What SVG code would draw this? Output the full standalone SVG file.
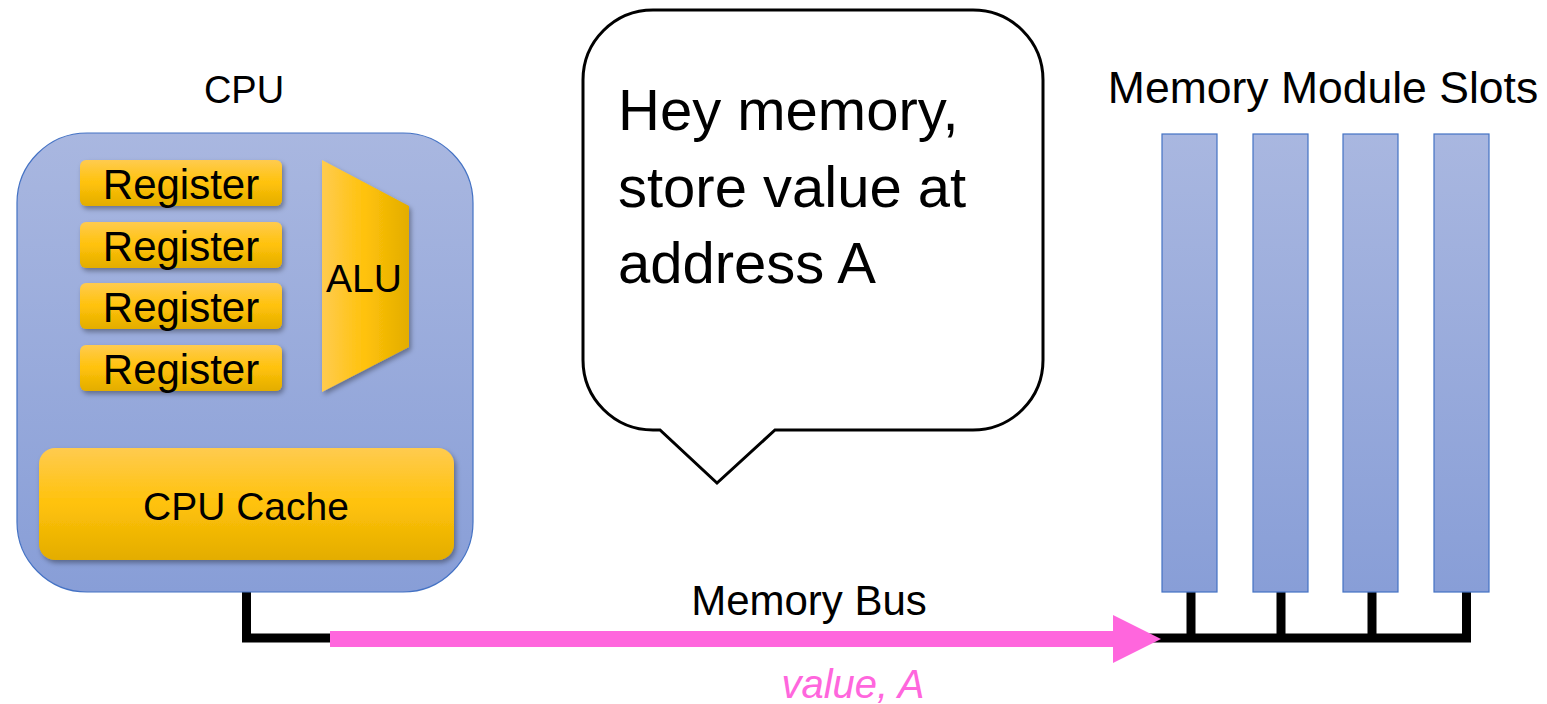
<svg xmlns="http://www.w3.org/2000/svg" width="1547" height="704" viewBox="0 0 1547 704">
  <defs>
    <linearGradient id="blueFill" x1="0" y1="0" x2="0" y2="1">
      <stop offset="0" stop-color="#A9B7E0"/>
      <stop offset="1" stop-color="#889ED7"/>
    </linearGradient>
    <linearGradient id="goldFill" x1="0" y1="0" x2="0" y2="1">
      <stop offset="0" stop-color="#FFCB4F"/>
      <stop offset="0.5" stop-color="#FFC20A"/>
      <stop offset="1" stop-color="#E3AD00"/>
    </linearGradient>
    <linearGradient id="aluFill" x1="0" y1="0" x2="1" y2="0">
      <stop offset="0" stop-color="#FFCB4F"/>
      <stop offset="0.5" stop-color="#FFC20A"/>
      <stop offset="1" stop-color="#E3AD00"/>
    </linearGradient>
    <filter id="shadow" x="-10%" y="-20%" width="130%" height="150%">
      <feDropShadow dx="2" dy="3" stdDeviation="2.5" flood-color="#000" flood-opacity="0.35"/>
    </filter>
  </defs>
  <style>
    text { font-family: "Liberation Sans", Arial, sans-serif; fill: #000; }
    .lbl { font-size: 42px; }
    .blue { fill: url(#blueFill); stroke: #4472C4; stroke-width: 1.2; }
    .gold { fill: url(#goldFill); filter: url(#shadow); }
    .wire { fill: none; stroke: #000; stroke-width: 9; stroke-linejoin: miter; stroke-linecap: butt; }
  </style>

  <rect width="1547" height="704" fill="#fff"/>

  <!-- bus wiring -->
  <g id="connectors">
    <path class="wire" d="M246.5,592 V638 H1466.5 V592"/>
    <path class="wire" d="M1191,592 V638 M1281,592 V638 M1372,592 V638"/>
    <path d="M330,631 H1113 V615 L1161,639 L1113,663 V647 H330 Z" fill="#FF66DD"/>
  </g>

  <!-- processor -->
  <g id="cpu">
    <text x="244" y="103" text-anchor="middle" font-size="38">CPU</text>
    <rect class="blue" x="17" y="133" width="456" height="459" rx="70" ry="70"/>
  </g>

  <g id="register-1">
    <rect class="gold" x="80" y="160" width="202" height="46" rx="6"/>
    <text class="lbl" x="181" y="199" text-anchor="middle">Register</text>
  </g>
  <g id="register-2">
    <rect class="gold" x="80" y="222" width="202" height="46" rx="6"/>
    <text class="lbl" x="181" y="261" text-anchor="middle">Register</text>
  </g>
  <g id="register-3">
    <rect class="gold" x="80" y="283" width="202" height="46" rx="6"/>
    <text class="lbl" x="181" y="322" text-anchor="middle">Register</text>
  </g>
  <g id="register-4">
    <rect class="gold" x="80" y="345" width="202" height="46" rx="6"/>
    <text class="lbl" x="181" y="384" text-anchor="middle">Register</text>
  </g>

  <g id="alu">
    <polygon points="322,160 409,206 409,347 322,392" fill="url(#aluFill)" filter="url(#shadow)"/>
    <text x="364" y="292" text-anchor="middle" font-size="39">ALU</text>
  </g>

  <g id="cpu-cache">
    <rect class="gold" x="39" y="448" width="415" height="112" rx="16"/>
    <text x="246" y="520" text-anchor="middle" font-size="39">CPU Cache</text>
  </g>

  <!-- memory side -->
  <g id="memory-slots">
    <text x="1323" y="103" text-anchor="middle" font-size="44.5">Memory Module Slots</text>
    <rect class="blue" x="1162" y="134" width="55" height="458"/>
    <rect class="blue" x="1253" y="134" width="55" height="458"/>
    <rect class="blue" x="1343" y="134" width="55" height="458"/>
    <rect class="blue" x="1434" y="134" width="55" height="458"/>
  </g>

  <g id="bus-labels">
    <text class="lbl" x="809" y="615" text-anchor="middle">Memory Bus</text>
    <text x="853" y="698" text-anchor="middle" font-size="40" font-style="italic" style="fill:#FF66DD">value, A</text>
  </g>

  <!-- speech bubble -->
  <g id="speech-bubble">
    <path d="M653,430 H660 L717,483 L775,430 H973 A70,70 0 0 0 1043,360 V80 A70,70 0 0 0 973,10 H653 A70,70 0 0 0 583,80 V360 A70,70 0 0 0 653,430 Z" fill="#fff" stroke="#000" stroke-width="3"/>
    <text font-size="58" x="618" y="130">Hey memory,</text>
    <text font-size="58" x="618" y="207">store value at</text>
    <text font-size="58" x="618" y="283">address A</text>
  </g>
</svg>
